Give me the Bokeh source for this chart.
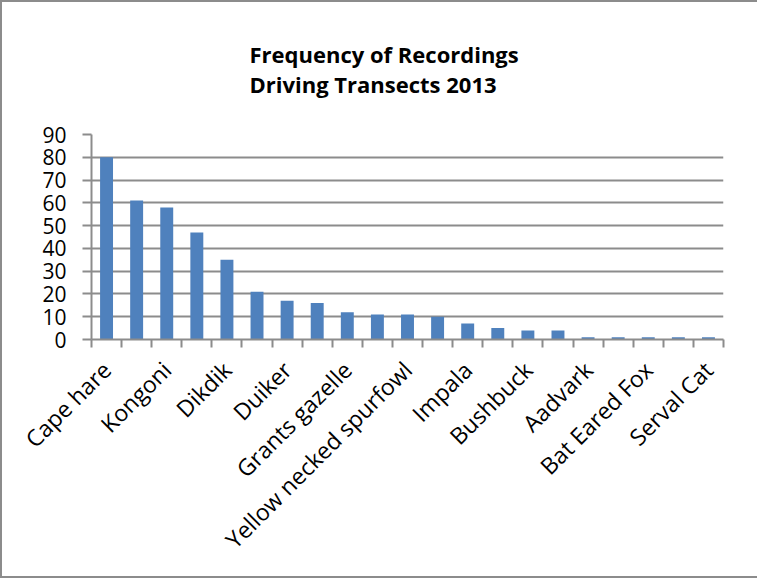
from bokeh.plotting import figure
from bokeh.models import ColumnDataSource, FixedTicker
from bokeh.embed import file_html
from bokeh.resources import INLINE

# Number of recordings per species, sorted from most to least frequent
counts = [80, 61, 58, 47, 35, 21, 17, 16, 12, 11, 11, 10, 7, 5, 4, 4, 1, 1, 1, 1, 1]

# Species names printed under every second bar
tick_labels = ["Cape hare", "Kongoni", "Dikdik", "Duiker", "Grants gazelle",
               "Yellow necked spurfowl", "Impala", "Bushbuck", "Aadvark",
               "Bat Eared Fox", "Serval Cat"]

title_lines = ["Frequency of Recordings", "Driving Transects 2013"]

n = len(counts)
centers = [i + 0.5 for i in range(n)]
src = ColumnDataSource(dict(x=centers, count=counts))

GRID = "#8c8c8c"
BAR = "#4f81bd"
FONT = "Open Sans"

p = figure(width=757, height=578, output_backend="svg", toolbar_location=None,
           x_range=(0, n), y_range=(0, 90),
           min_border_left=91, min_border_right=34,
           min_border_top=124, min_border_bottom=239,
           title="\n".join(title_lines))
# chart-area frame on the left, top and bottom edges, painted behind a transparent canvas
p.styles = {"background-color": "white",
            "box-shadow": f"inset 2px 2px 0 {GRID}, inset 0 -2px 0 {GRID}"}
p.background_fill_color = None
p.border_fill_color = None
p.outline_line_color = None

# two-line title, shifted from the frame's left edge towards the chart centre
p.title.align = "left"
p.title.offset = 158
p.title.standoff = 72
p.title.text_font = FONT
p.title.text_font_style = "bold"
p.title.text_font_size = "22px"
p.title.text_line_height = 1.0
p.title.text_color = "black"

p.vbar(x="x", top="count", width=0.43, source=src, fill_color=BAR, line_color=None)

# value axis
p.yaxis.ticker = FixedTicker(ticks=list(range(0, 91, 10)))
p.yaxis.axis_line_color = GRID
p.yaxis.axis_line_width = 2
p.yaxis.major_tick_line_color = GRID
p.yaxis.major_tick_line_width = 2
p.yaxis.major_tick_out = 9
p.yaxis.major_tick_in = 0
p.yaxis.minor_tick_line_color = None
p.yaxis.major_label_standoff = 16
p.yaxis.major_label_text_font = FONT
p.yaxis.major_label_text_font_size = "21px"
p.yaxis.major_label_text_color = "black"

# category axis: tick marks between bars, names under every second bar
label_pos = centers[::2]
p.xaxis.ticker = FixedTicker(ticks=label_pos, minor_ticks=list(range(0, n + 1)))
p.xaxis.major_label_overrides = {x: t for x, t in zip(label_pos, tick_labels)}
p.xaxis.major_label_orientation = 0.785398
p.xaxis.major_tick_line_color = None
p.xaxis.minor_tick_line_color = GRID
p.xaxis.minor_tick_line_width = 2
p.xaxis.minor_tick_out = 8
p.xaxis.minor_tick_in = 0
p.xaxis.axis_line_color = GRID
p.xaxis.axis_line_width = 2
p.xaxis.major_label_standoff = 18
p.xaxis.major_label_text_font = FONT
p.xaxis.major_label_text_font_size = "23px"
p.xaxis.major_label_text_color = "black"

p.xgrid.grid_line_color = None
p.ygrid.grid_line_color = GRID
p.ygrid.grid_line_width = 2

open("out.html", "w").write(file_html(p, INLINE))
